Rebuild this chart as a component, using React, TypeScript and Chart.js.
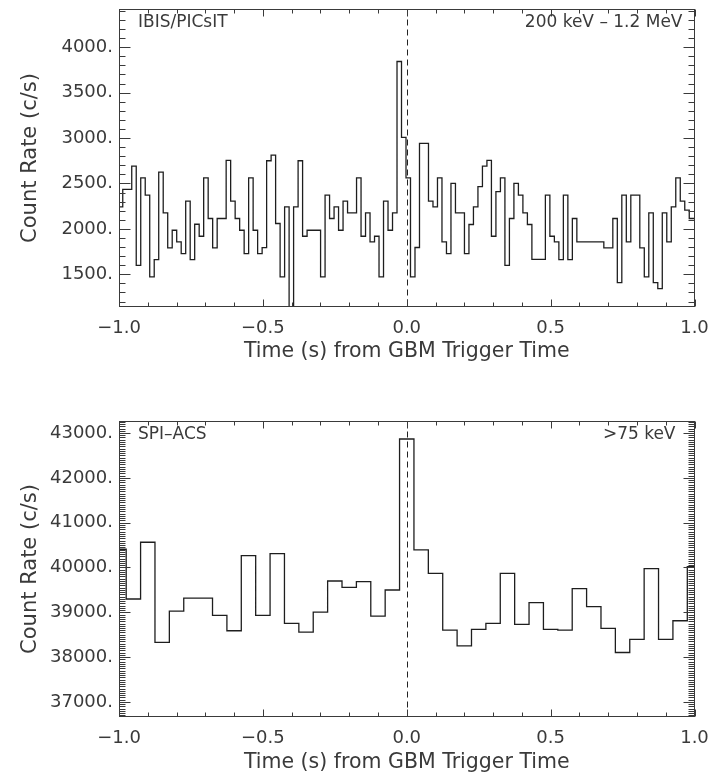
import React, { useEffect, useRef } from "react";
import { Chart, registerables } from "chart.js";

Chart.register(...registerables);

// ---------------- DATA ----------------
// IBIS/PICsIT 200 keV - 1.2 MeV light curve, 1/64 s bins (first bin partly before -1 s)
const PICSIT_FIRST_EDGE = -1.0026;
const PICSIT_BIN = 1 / 64;
const PICSIT_RATE = [
  1544, 2243, 2434, 2434, 2691, 1599, 2562, 2371, 1471, 1662,
  2625, 2176, 1790, 1985, 1857, 1728, 2305, 1662, 2051, 1919,
  2562, 2114, 1790, 2114, 2114, 2754, 2305, 2114, 1985, 1728,
  2562, 1985, 1728, 1794, 2750, 2812, 2059, 1471, 2243, 1100,
  2243, 2750, 1919, 1985, 1985, 1985, 1471, 2371, 2114, 2243,
  1985, 2305, 2176, 2176, 2562, 1919, 2176, 1857, 1919, 1471,
  2305, 1985, 2176, 3842, 3007, 2562, 1471, 1795, 2941, 2941,
  2305, 2243, 2562, 1857, 1728, 2500, 2176, 2176, 1728, 2048,
  2243, 2465, 2691, 2754, 1919, 2410, 2562, 1599, 2114, 2500,
  2371, 2176, 2048, 1665, 1665, 1665, 2371, 1919, 1857, 1662,
  2371, 1662, 2114, 1857, 1857, 1857, 1857, 1857, 1857, 1790,
  1790, 2114, 1408, 2371, 1857, 2371, 2371, 1790, 1471, 2176,
  1408, 1342, 2176, 1857, 2243, 2562, 2305, 2206, 2114,
];

// SPI-ACS >75 keV light curve, 50 ms bins (bin centres)
const ACS_TIME = [
  -1.0, -0.95, -0.9, -0.85, -0.8, -0.75, -0.7, -0.65, -0.6, -0.55,
  -0.5, -0.45, -0.4, -0.35, -0.3, -0.25, -0.2, -0.15, -0.1, -0.05,
  0.0, 0.05, 0.1, 0.15, 0.2, 0.25, 0.3, 0.35, 0.4, 0.45,
  0.5, 0.55, 0.6, 0.65, 0.7, 0.75, 0.8, 0.85, 0.9, 0.95, 1.0,
];
const ACS_RATE = [
  40407, 39297, 40563, 38328, 39028, 39319, 39319, 38931, 38589, 40265,
  38931, 40310, 38753, 38559, 39006, 39699, 39557, 39684, 38916, 39498,
  42866, 40392, 39870, 38604, 38253, 38618, 38753, 39870, 38730, 39215,
  38618, 38604, 39528, 39125, 38641, 38104, 38395, 39975, 38395, 38812, 40020,
];

const X_TICKS = [-1, -0.5, 0, 0.5, 1];
const PICSIT_Y_TICKS = [1500, 2000, 2500, 3000, 3500, 4000];
const ACS_Y_TICKS = [37000, 38000, 39000, 40000, 41000, 42000, 43000];

const X_TITLE = "Time (s) from GBM Trigger Time";
const Y_TITLE = "Count Rate (c/s)";

// ---------------- STYLE ----------------
const FONT = '"DejaVu Sans", sans-serif';
const INK = "#3a3a3a";
const LINE = "#1e1e1e";
const CANVAS_W = 712;
const CANVAS_H = 388;

type PanelCfg = {
  points: { x: number; y: number }[];
  stepped: "after" | "middle";
  yMin: number;
  yMax: number;
  yTicks: number[];
  yMinor: number;
  padTop: number;
  xHeight: number;
  tickLabelDy: number;
  titleDy: number;
  leftLabel: string;
  rightLabel: string;
  rightLabelInset: number;
};

function fmtX(v: number) {
  const s = Math.abs(v).toFixed(1);
  return v < 0 ? "\u2212" + s : s;
}

function makeChart(canvas: HTMLCanvasElement, cfg: PanelCfg) {
  const framePlugin = {
    id: "idlFrame",
    afterDatasetsDraw(chart: any) {
      const ctx = chart.ctx as CanvasRenderingContext2D;
      const ca = chart.chartArea;
      const xs = chart.scales.x;
      const ys = chart.scales.y;
      const L = Math.round(ca.left) + 0.5;
      const R = Math.round(ca.right) - 0.5;
      const T = Math.round(ca.top) + 0.5;
      const B = Math.round(ca.bottom) - 0.5;
      ctx.save();
      // dashed line at trigger time
      const x0 = Math.round(xs.getPixelForValue(0)) + 0.5;
      ctx.strokeStyle = "#222";
      ctx.lineWidth = 1;
      ctx.setLineDash([6, 4]);
      ctx.beginPath();
      ctx.moveTo(x0, T);
      ctx.lineTo(x0, B);
      ctx.stroke();
      ctx.setLineDash([]);
      // frame
      ctx.strokeStyle = INK;
      ctx.lineWidth = 1;
      ctx.strokeRect(L, T, R - L, B - T);
      // x ticks
      ctx.beginPath();
      for (let i = -10; i <= 10; i++) {
        const v = i / 10;
        const px = Math.round(xs.getPixelForValue(v)) + 0.5;
        const len = i % 5 === 0 ? 7 : 4;
        ctx.moveTo(px, B);
        ctx.lineTo(px, B - len);
        ctx.moveTo(px, T);
        ctx.lineTo(px, T + len);
      }
      // y ticks
      const step = cfg.yMinor;
      const majorStep = cfg.yTicks[1] - cfg.yTicks[0];
      for (let k = Math.ceil(cfg.yMin / step); k * step <= cfg.yMax; k++) {
        const v = k * step;
        const py = Math.round(ys.getPixelForValue(v)) + 0.5;
        const major = Math.abs(v / majorStep - Math.round(v / majorStep)) < 1e-6;
        const len = major ? 11 : 6;
        ctx.moveTo(L, py);
        ctx.lineTo(L + len, py);
        ctx.moveTo(R, py);
        ctx.lineTo(R - len, py);
      }
      ctx.stroke();

      ctx.fillStyle = INK;
      ctx.textBaseline = "middle";
      // x tick labels
      ctx.font = `18px ${FONT}`;
      ctx.textAlign = "center";
      X_TICKS.forEach((v) => {
        ctx.fillText(fmtX(v), xs.getPixelForValue(v), ca.bottom + cfg.tickLabelDy);
      });
      // y tick labels
      ctx.textAlign = "right";
      cfg.yTicks.forEach((v) => {
        ctx.fillText(`${v}.`, ca.left - 6, ys.getPixelForValue(v));
      });
      // axis titles
      ctx.font = `20.5px ${FONT}`;
      ctx.textAlign = "center";
      ctx.fillText(X_TITLE, (ca.left + ca.right) / 2, ca.bottom + cfg.titleDy);
      ctx.save();
      ctx.translate(31, (ca.top + ca.bottom) / 2);
      ctx.rotate(-Math.PI / 2);
      ctx.font = `21px ${FONT}`;
      ctx.fillText(Y_TITLE, 0, 0);
      ctx.restore();
      // annotations
      ctx.font = `17px ${FONT}`;
      ctx.textAlign = "left";
      ctx.fillText(cfg.leftLabel, ca.left + 19, ca.top + 14);
      ctx.textAlign = "right";
      ctx.fillText(cfg.rightLabel, ca.right - cfg.rightLabelInset, ca.top + 14);
      ctx.restore();
    },
  };

  return new Chart(canvas, {
    type: "line",
    data: {
      datasets: [
        {
          data: cfg.points,
          stepped: cfg.stepped,
          borderColor: LINE,
          borderWidth: 1.3,
          pointRadius: 0,
          fill: false,
        },
      ],
    },
    options: {
      animation: false,
      responsive: false,
      devicePixelRatio: 1,
      events: [],
      layout: { padding: { top: cfg.padTop, right: 17.5, bottom: 0, left: 0 } },
      plugins: {
        legend: { display: false },
        tooltip: { enabled: false },
        title: { display: false },
      },
      scales: {
        x: {
          type: "linear",
          min: -1,
          max: 1,
          grid: { display: false, drawTicks: false },
          border: { display: false },
          afterBuildTicks: (s: any) => {
            s.ticks = X_TICKS.map((v) => ({ value: v }));
          },
          afterFit: (s: any) => {
            s.height = cfg.xHeight;
            s.paddingLeft = 0;
            s.paddingRight = 0;
          },
          ticks: { display: false },
          title: { display: false },
        },
        y: {
          type: "linear",
          min: cfg.yMin,
          max: cfg.yMax,
          grid: { display: false, drawTicks: false },
          border: { display: false },
          afterBuildTicks: (s: any) => {
            s.ticks = cfg.yTicks.map((v) => ({ value: v }));
          },
          afterFit: (s: any) => {
            s.width = 119;
            s.paddingTop = 0;
            s.paddingBottom = 0;
          },
          ticks: { display: false },
          title: { display: false },
        },
      },
    },
    plugins: [framePlugin],
  } as any);
}

function Panel({ cfg, top }: { cfg: PanelCfg; top: number }) {
  const ref = useRef<HTMLCanvasElement | null>(null);
  useEffect(() => {
    if (!ref.current) return;
    const chart = makeChart(ref.current, cfg);
    return () => chart.destroy();
  }, []);
  return (
    <canvas
      ref={ref}
      width={CANVAS_W}
      height={CANVAS_H}
      style={{ position: "absolute", left: 0, top, width: CANVAS_W, height: CANVAS_H, display: "block" }}
    />
  );
}

const picsitPoints = PICSIT_RATE.map((v, i) => ({ x: PICSIT_FIRST_EDGE + i * PICSIT_BIN, y: v }));
picsitPoints.push({
  x: PICSIT_FIRST_EDGE + PICSIT_RATE.length * PICSIT_BIN,
  y: PICSIT_RATE[PICSIT_RATE.length - 1],
});

const acsPoints = ACS_TIME.map((t, i) => ({ x: t, y: ACS_RATE[i] }));

const TOP_CFG: PanelCfg = {
  points: picsitPoints,
  stepped: "after",
  yMin: 1140,
  yMax: 4420,
  yTicks: PICSIT_Y_TICKS,
  yMinor: 100,
  padTop: 9,
  xHeight: 81,
  tickLabelDy: 21,
  titleDy: 45,
  leftLabel: "IBIS/PICsIT",
  rightLabel: "200 keV \u2013 1.2 MeV",
  rightLabelInset: 12,
};

const BOTTOM_CFG: PanelCfg = {
  points: acsPoints,
  stepped: "middle",
  yMin: 36665,
  yMax: 43268,
  yTicks: ACS_Y_TICKS,
  yMinor: 50,
  padTop: 33,
  xHeight: 59,
  tickLabelDy: 21,
  titleDy: 46,
  leftLabel: "SPI\u2013ACS",
  rightLabel: ">75 keV",
  rightLabelInset: 19,
};

export default function App() {
  return (
    <div style={{ position: "absolute", left: 0, top: 0, width: 712, height: 776, background: "#fff" }}>
      <Panel cfg={TOP_CFG} top={0} />
      <Panel cfg={BOTTOM_CFG} top={388} />
    </div>
  );
}
